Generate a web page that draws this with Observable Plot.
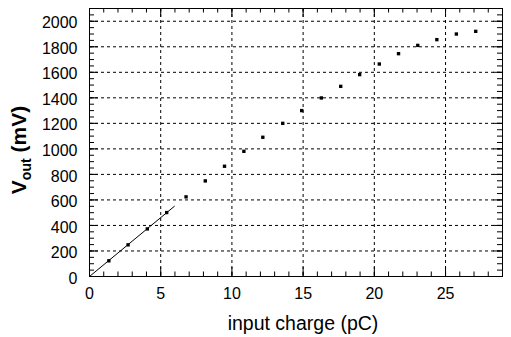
<!DOCTYPE html>
<html>
<head>
<meta charset="utf-8">
<script src="https://cdn.jsdelivr.net/npm/d3@7"></script>
<script src="https://cdn.jsdelivr.net/npm/@observablehq/plot@0.6"></script>
<style>
  html, body { margin: 0; padding: 0; background: white; }
</style>
</head>
<body>
<div id="chart"></div>
<script>
// Measured points: input charge (pC) vs output voltage (mV)
const charge = [1.36, 2.71, 4.06, 5.42, 6.78, 8.13, 9.48, 10.84, 12.17, 13.57,
                14.90, 16.28, 17.64, 18.97, 20.35, 21.70, 23.05, 24.39, 25.76, 27.12];
const vout   = [123, 248, 373, 501, 624, 749, 864, 981, 1091, 1200,
                1300, 1399, 1490, 1582, 1665, 1746, 1811, 1856, 1900, 1921];

// Linear fit segment
const fitCharge = [0, 5.96];
const fitVout   = [0, 550];

// Axis ticks
const xMajor = [0, 5, 10, 15, 20, 25];
const xMinor = d3.range(0, 30, 1);
const yMajor = [0, 200, 400, 600, 800, 1000, 1200, 1400, 1600, 1800, 2000];
const yMinor = d3.range(0, 2101, 50);

const xTitle = "input charge (pC)";
const yTitleMain = "V";
const yTitleSub = "out";
const yTitleUnit = " (mV)";

const W = 511, H = 337;
const mL = 89, mR = 9, mT = 8, mB = 61;
const innerW = W - mL - mR, innerH = H - mT - mB;

const points = charge.map((c, i) => ({c, v: vout[i]}));
const fit = fitCharge.map((c, i) => ({c, v: fitVout[i]}));

const svg = Plot.plot({
  width: W, height: H,
  marginLeft: mL, marginRight: mR, marginTop: mT, marginBottom: mB,
  style: {fontFamily: "'Liberation Sans', Arial, Helvetica, sans-serif", fontSize: "16px", color: "black", background: "white"},
  x: {domain: [0, 29]},
  y: {domain: [0, 2100]},
  marks: [
    Plot.gridX(xMajor.filter(d => d > 0), {stroke: "black", strokeOpacity: 1, strokeDasharray: "3,3"}),
    Plot.gridY(yMajor.filter(d => d > 0), {stroke: "black", strokeOpacity: 1, strokeDasharray: "3,3"}),
    // inward ticks: bottom & top
    Plot.tickX(xMinor, {x: d => d, insetTop: innerH - 4.5, stroke: "black"}),
    Plot.tickX(xMajor, {x: d => d, insetTop: innerH - 9, stroke: "black"}),
    Plot.tickX(xMinor, {x: d => d, insetBottom: innerH - 4.5, stroke: "black"}),
    Plot.tickX(xMajor, {x: d => d, insetBottom: innerH - 9, stroke: "black"}),
    // inward ticks: left & right
    Plot.tickY(yMinor, {y: d => d, insetRight: innerW - 5, stroke: "black"}),
    Plot.tickY(yMajor, {y: d => d, insetRight: innerW - 9, stroke: "black"}),
    Plot.tickY(yMinor, {y: d => d, insetLeft: innerW - 5, stroke: "black"}),
    Plot.tickY(yMajor, {y: d => d, insetLeft: innerW - 9, stroke: "black"}),
    Plot.axisX(xMajor, {tickSize: 0, tickPadding: 11, label: null, fontSize: 16, tickFormat: d => String(d)}),
    Plot.axisY(yMajor, {tickSize: 0, tickPadding: 12, label: null, fontSize: 16, dy: 2, tickFormat: d => String(d)}),
    Plot.frame({stroke: "black", strokeWidth: 1}),
    Plot.line(fit, {x: "c", y: "v", stroke: "black", strokeWidth: 1}),
    Plot.dot(points, {x: "c", y: "v", symbol: "square", r: 1.9, fill: "black", stroke: "none"})
  ]
});

const s = d3.select(svg);
s.append("text")
  .attr("x", 303).attr("y", 330)
  .attr("text-anchor", "middle")
  .attr("font-size", "19.5px")
  .attr("fill", "black")
  .text(xTitle);

const yt = s.append("text")
  .attr("transform", "translate(26,150) rotate(-90)")
  .attr("text-anchor", "middle")
  .attr("font-size", "21px")
  .attr("font-weight", "bold")
  .attr("fill", "black");
yt.append("tspan").text(yTitleMain);
yt.append("tspan").attr("dy", 5).attr("font-size", "14px").text(yTitleSub);
yt.append("tspan").attr("dy", -5).text(yTitleUnit);

document.getElementById("chart").appendChild(svg);
</script>
</body>
</html>
